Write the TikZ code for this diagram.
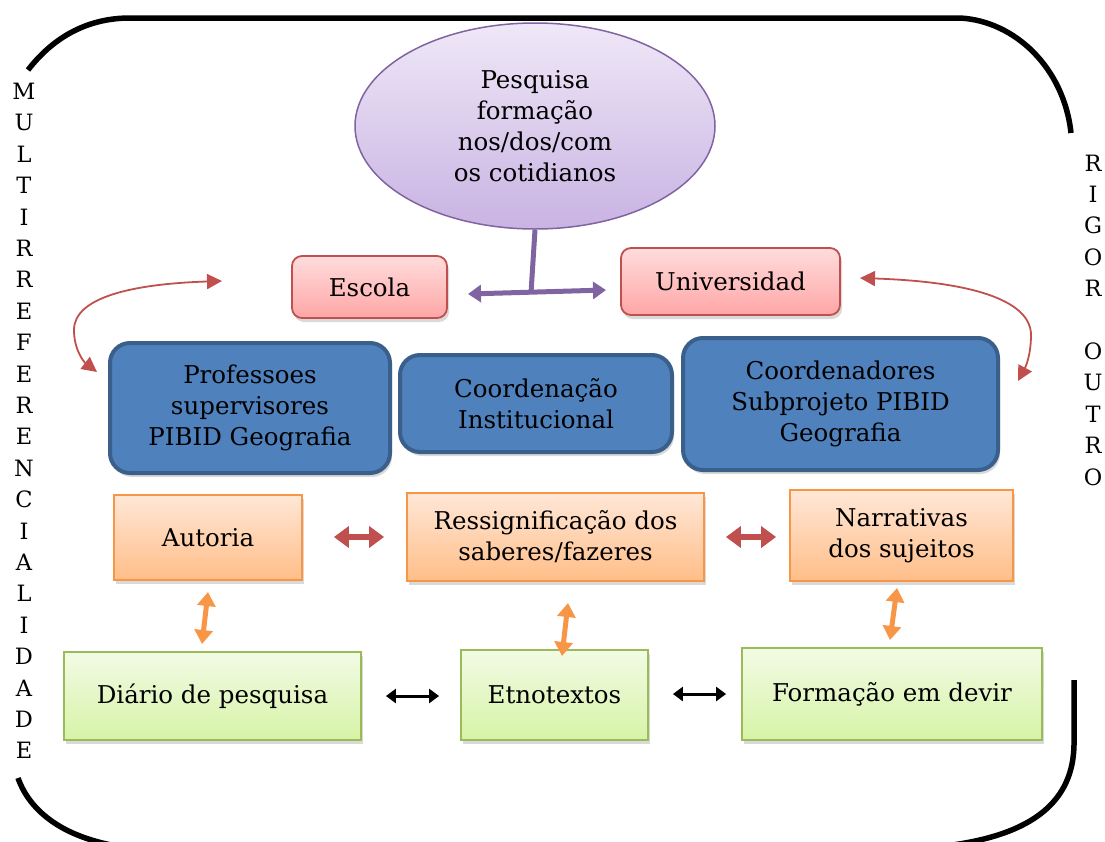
\documentclass[tikz,border=0pt]{standalone}
\usepackage{fontspec}
\setmainfont{DejaVu Serif}
\usetikzlibrary{arrows.meta,shapes.geometric,shadows}
\definecolor{purp}{HTML}{8064A2}
\definecolor{elltop}{HTML}{EFE8F7}
\definecolor{ellbot}{HTML}{C9B3E3}
\definecolor{pinkbd}{HTML}{C0504D}
\definecolor{pinktop}{HTML}{FFDCDC}
\definecolor{pinkbot}{HTML}{FFA6A6}
\definecolor{bluefill}{HTML}{4F81BD}
\definecolor{bluebd}{HTML}{3A5F8B}
\definecolor{orbd}{HTML}{F79646}
\definecolor{ortop}{HTML}{FFE7D7}
\definecolor{orbot}{HTML}{FFBE88}
\definecolor{grbd}{HTML}{9BBB59}
\definecolor{grtop}{HTML}{F2FBE5}
\definecolor{grbot}{HTML}{D6F3A6}
\definecolor{redarr}{HTML}{C0504D}
\begin{document}
\begin{tikzpicture}[x=1pt,y=-1pt,
  basebox/.style={draw, line width=1.8pt, inner sep=0pt, align=center,
    font=\fontsize{24.5}{31}\selectfont,
    drop shadow={opacity=0.3, shadow xshift=2pt, shadow yshift=-4pt}},
  pinkbox/.style={basebox, rounded corners=10pt, draw=pinkbd, top color=pinktop, bottom color=pinkbot},
  bluebox/.style={basebox, rounded corners=20pt, draw=bluebd, line width=4pt, fill=bluefill},
  orangebox/.style={basebox, draw=orbd, top color=ortop, bottom color=orbot},
  greenbox/.style={basebox, draw=grbd, top color=grtop, bottom color=grbot},
  vletters/.style={align=center, inner sep=0pt, font=\fontsize{22.5}{31.4}\selectfont},
  redcurve/.style={draw=redarr, line width=1.8pt, {Triangle[length=15pt,width=15pt]}-{Triangle[length=15pt,width=15pt]}},
  redblock/.style={draw=redarr, line width=6pt, {Triangle[length=15pt,width=21pt]}-{Triangle[length=15pt,width=21pt]}},
  orarrow/.style={draw=orbd, line width=5pt, {Triangle[length=14pt,width=18pt]}-{Triangle[length=14pt,width=18pt]}},
  blkarrow/.style={draw=black, line width=3pt, {Triangle[length=10pt,width=14pt]}-{Triangle[length=10pt,width=14pt]}},
  purparrow/.style={draw=purp, line width=5pt, {Triangle[length=13pt,width=17pt]}-{Triangle[length=13pt,width=17pt]}}
]
\useasboundingbox (0,0) rectangle (1105,841);

% outer frame
\draw[line width=5.5pt] (28,70) .. controls (55,35) and (90,18) .. (130,18) -- (960,18)
  .. controls (1015,21) and (1064,68) .. (1071,133);
\draw[line width=5.5pt] (1074,680) -- (1074,745) .. controls (1073,800) and (1035,835) .. (945,846);
\draw[line width=5.5pt] (18,778) .. controls (30,812) and (65,840) .. (130,848);

% side letters
\node[vletters] (multi) at (24,421) {M\\U\\L\\T\\I\\R\\R\\E\\F\\E\\R\\E\\N\\C\\I\\A\\L\\I\\D\\A\\D\\E};
\node[vletters] (rigor) at (1093,320) {R\\I\\G\\O\\R\\ \\O\\U\\T\\R\\O};

% ellipse
\node[ellipse, draw=purp, line width=1.5pt, top color=elltop, bottom color=ellbot,
  minimum width=360pt, minimum height=206pt, inner sep=0pt, align=center,
  font=\fontsize{24.5}{31}\selectfont] (pesq) at (535,126)
  {Pesquisa\\formação\\nos/dos/com\\os cotidianos};

% pink boxes
\node[pinkbox, minimum width=155pt, minimum height=62pt] (escola) at (369.5,287) {Escola};
\node[pinkbox, minimum width=219pt, minimum height=67pt] (univ) at (730.5,281.5) {Universidad};

% purple connector
\coordinate (tj) at (531,293);
\coordinate (pl) at (468,294);
\coordinate (pr) at (606,290);
\draw[purp, line width=5pt] (pesq.south) -- (tj);
\draw[purparrow] (pl) -- (pr);

% blue boxes
\node[bluebox, minimum width=280pt, minimum height=130pt] (prof) at (250,408)
  {Professoes\\supervisores\\PIBID Geografia};
\node[bluebox, minimum width=272pt, minimum height=97pt] (coord) at (536,403.5)
  {Coordenação\\Institucional};
\node[bluebox, minimum width=315pt, minimum height=132pt] (coords) at (840.5,404)
  {Coordenadores\\Subprojeto PIBID\\Geografia};

% red curved arrows
\coordinate (lc1) at (222,281);
\coordinate (lc2) at (97,372);
\draw[redcurve] (lc1) .. controls (130,284) and (74,298) .. (74,330) .. controls (74,350) and (84,362) .. (lc2);
\coordinate (rc1) at (860,278);
\coordinate (rc2) at (1018,381);
\draw[redcurve] (rc1) .. controls (980,282) and (1031,303) .. (1031,335) .. controls (1031,356) and (1025,368) .. (rc2);

% orange boxes
\node[orangebox, minimum width=188pt, minimum height=85pt] (autoria) at (208,537.5) {Autoria};
\node[orangebox, minimum width=297pt, minimum height=88pt] (ressig) at (555.5,537)
  {Ressignificação dos\\saberes/fazeres};
\node[orangebox, minimum width=223pt, minimum height=91pt] (narr) at (901.5,535.5)
  {Narrativas\\dos sujeitos};

% red block arrows
\draw[redblock, shorten <=31pt, shorten >=22pt] (autoria.east |- ressig.west) -- (ressig.west);
\draw[redblock, shorten <=21pt, shorten >=13pt] (ressig.east) -- (ressig.east -| narr.west);

% green boxes
\node[greenbox, minimum width=297pt, minimum height=88pt] (diario) at (212.5,696) {Diário de pesquisa};
\node[greenbox, minimum width=187pt, minimum height=90pt] (etno) at (554.5,695) {Etnotextos};
\node[greenbox, minimum width=300pt, minimum height=92pt] (form) at (892,694) {Formação em devir};

% orange vertical arrows
\coordinate (oa1) at (208,592); \coordinate (oa2) at (202,644);
\coordinate (ob1) at (568,603); \coordinate (ob2) at (562,656);
\coordinate (oc1) at (897,588); \coordinate (oc2) at (890,640);
\draw[orarrow] (oa1) -- (oa2);
\draw[orarrow] (ob1) -- (ob2);
\draw[orarrow] (oc1) -- (oc2);

% black arrows
\draw[blkarrow, shorten <=24pt, shorten >=21pt] (diario.east) -- (diario.east -| etno.west);
\draw[blkarrow, shorten <=24pt, shorten >=15pt] (etno.east |- form.west) -- (form.west);
\end{tikzpicture}
\end{document}
